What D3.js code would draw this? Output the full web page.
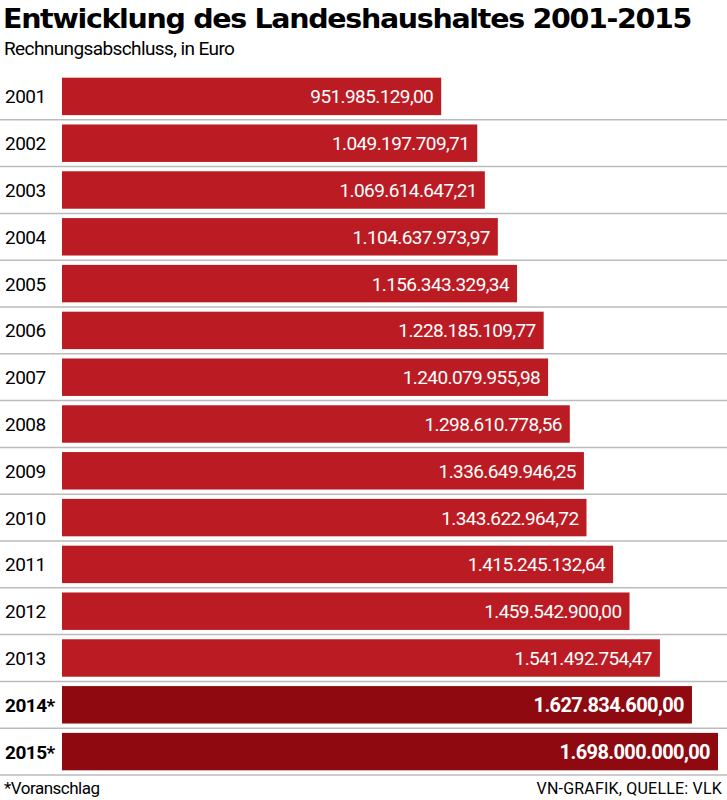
<!DOCTYPE html>
<html><head><meta charset="utf-8">
<script src="https://cdn.jsdelivr.net/npm/d3@7"></script>
<style>body{margin:0;background:#fff}</style>
</head><body>
<svg width="727" height="800"></svg>
<script>
var years=["2001","2002","2003","2004","2005","2006","2007","2008","2009","2010","2011","2012","2013","2014*","2015*"];
var values=[951985129.00,1049197709.71,1069614647.21,1104637973.97,1156343329.34,1228185109.77,1240079955.98,1298610778.56,1336649946.25,1343622964.72,1415245132.64,1459542900.00,1541492754.47,1627834600.00,1698000000.00];
var estimate=[false,false,false,false,false,false,false,false,false,false,false,false,false,true,true];

var data=years.map((y,i)=>({year:y,value:values[i],est:estimate[i]}));
var svg=d3.select("svg");
var fmt=d3.formatLocale({decimal:",",thousands:".",grouping:[3]}).format(",.2f");

var x=d3.scaleLinear().domain([-70e6,1698e6]).range([62,718]);
var y=d3.scaleBand().domain(years).range([73,775]).paddingInner(0.2).paddingOuter(0.1);
var step=y.step();

svg.append("text").attr("x",3).attr("y",28).attr("font-family","DejaVu Sans, sans-serif")
  .attr("font-weight","bold").attr("font-size",26).attr("letter-spacing",-1.2)
  .attr("textLength",688).attr("lengthAdjust","spacingAndGlyphs").text("Entwicklung des Landeshaushaltes 2001-2015");
svg.append("text").attr("x",4).attr("y",55).attr("font-family","Roboto, sans-serif")
  .attr("font-size",19).attr("letter-spacing",-0.6).text("Rechnungsabschluss, in Euro");

var rows=svg.selectAll("g.row").data(data).enter().append("g").attr("class","row");
rows.append("line").attr("x1",0).attr("x2",727)
  .attr("y1",d=>y(d.year)+y.bandwidth()+step*0.1).attr("y2",d=>y(d.year)+y.bandwidth()+step*0.1)
  .attr("stroke","#bbb").attr("stroke-width",1.5);
rows.append("rect").attr("x",x(-70e6)).attr("y",d=>y(d.year))
  .attr("width",d=>x(d.value)-x(-70e6)).attr("height",y.bandwidth())
  .attr("fill",d=>d.est?"#8e0a10":"#bb1c24");
rows.append("text").attr("x",5).attr("y",d=>y(d.year)+y.bandwidth()/2+7)
  .attr("font-family","Roboto, sans-serif").attr("font-size",19)
  .attr("font-weight",d=>d.est?"bold":"normal").attr("letter-spacing",-0.5).text(d=>d.year);
rows.append("text").attr("x",d=>x(d.value)-8).attr("y",d=>y(d.year)+y.bandwidth()/2+7)
  .attr("text-anchor","end").attr("fill","#fff").attr("font-family","Roboto, sans-serif")
  .attr("font-size",d=>d.est?20:19).attr("font-weight",d=>d.est?"bold":"normal")
  .attr("letter-spacing",-0.6).text(d=>fmt(d.value));

svg.append("text").attr("x",4).attr("y",794).attr("font-family","Roboto, sans-serif")
  .attr("font-size",17).attr("letter-spacing",-0.5).text("*Voranschlag");
svg.append("text").attr("x",722).attr("y",794).attr("text-anchor","end").attr("font-family","Roboto, sans-serif")
  .attr("font-size",16).attr("letter-spacing",0.2).text("VN-GRAFIK, QUELLE: VLK");
</script>
</body></html>
